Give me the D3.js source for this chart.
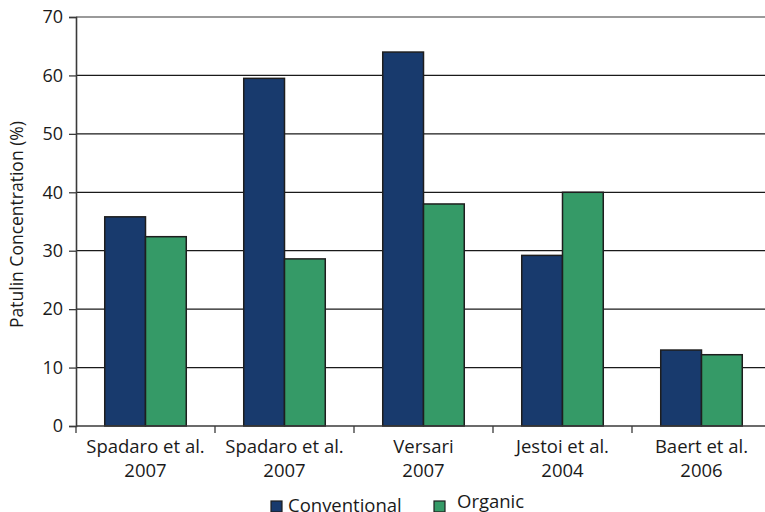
<!DOCTYPE html>
<html>
<head>
<meta charset="utf-8">
<script src="https://cdn.jsdelivr.net/npm/d3@7/dist/d3.min.js"></script>
<style>
  html, body { margin: 0; padding: 0; background: #fff; }
  svg { display: block; font-family: "Open Sans", "Noto Sans", sans-serif; }
</style>
</head>
<body>
<svg id="chart" width="765" height="512"></svg>
<script>
// Studies compared (two-line axis labels)
const studies = [
  ["Spadaro et al.", "2007"],
  ["Spadaro et al.", "2007"],
  ["Versari", "2007"],
  ["Jestoi et al.", "2004"],
  ["Baert et al.", "2006"]
];
const seriesNames = ["Conventional", "Organic"];
const conventional = [35.8, 59.5, 64.0, 29.2, 13.0];
const organic = [32.4, 28.6, 38.0, 40.0, 12.2];
const yTicks = [0, 10, 20, 30, 40, 50, 60, 70];

const colors = { Conventional: "#183a6d", Organic: "#359a67" };

const svg = d3.select("#chart");
const margin = { left: 76, top: 17, right: -6, bottom: 86 };
const width = 765, height = 512;

const rows = studies.map((s, i) => ({
  idx: i, label: s,
  Conventional: conventional[i],
  Organic: organic[i]
}));

const x = d3.scaleBand()
  .domain(d3.range(studies.length))
  .range([margin.left, width - margin.right])
  .paddingInner(0).paddingOuter(0);

const inner = d3.scaleBand()
  .domain(seriesNames)
  .range([0, x.bandwidth()])
  .paddingInner(0)
  .paddingOuter(0.705);

const y = d3.scaleLinear()
  .domain([0, 70])
  .range([height - margin.bottom, margin.top]);

// Horizontal gridlines
svg.append("g")
  .selectAll("line")
  .data(yTicks.filter(t => t > 0))
  .join("line")
  .attr("x1", margin.left)
  .attr("x2", width - margin.right)
  .attr("y1", d => y(d))
  .attr("y2", d => y(d))
  .attr("stroke", d => d === 70 ? "#9a9a9a" : "#1a1a1a")
  .attr("stroke-width", d => d === 70 ? 2 : 1.3);

// Bars
const groups = svg.append("g")
  .selectAll("g")
  .data(rows)
  .join("g")
  .attr("transform", d => `translate(${x(d.idx)},0)`);

groups.selectAll("rect")
  .data(d => seriesNames.map(k => ({ key: k, value: d[k] })))
  .join("rect")
  .attr("x", d => inner(d.key))
  .attr("width", inner.bandwidth())
  .attr("y", d => y(d.value))
  .attr("height", d => y(0) - y(d.value))
  .attr("fill", d => colors[d.key])
  .attr("stroke", "#1e1e1e")
  .attr("stroke-width", 1.5);

// Y axis
const yAxis = svg.append("g")
  .attr("transform", `translate(${margin.left},0)`)
  .call(d3.axisLeft(y).tickValues(yTicks).tickSize(7).tickPadding(6).tickFormat(d3.format("d")));
yAxis.select(".domain").attr("stroke", "#3a3a3a").attr("stroke-width", 1.6);
yAxis.selectAll(".tick line").attr("stroke", "#3a3a3a").attr("stroke-width", 1.3);
yAxis.selectAll(".tick text")
  .attr("font-size", 18)
  .attr("fill", "#1a1a1a")
  .attr("font-family", "'Open Sans', sans-serif");

// X axis with ticks at category boundaries
const xAxisG = svg.append("g")
  .attr("transform", `translate(0,${y(0)})`);
xAxisG.append("line")
  .attr("x1", margin.left).attr("x2", width - margin.right)
  .attr("y1", 0).attr("y2", 0)
  .attr("stroke", "#3a3a3a").attr("stroke-width", 1.6);
xAxisG.selectAll("line.bound")
  .data(d3.range(studies.length + 1))
  .join("line")
  .attr("class", "bound")
  .attr("x1", i => i < studies.length ? x(i) : x(studies.length - 1) + x.bandwidth())
  .attr("x2", i => i < studies.length ? x(i) : x(studies.length - 1) + x.bandwidth())
  .attr("y1", 0).attr("y2", 7)
  .attr("stroke", "#3a3a3a").attr("stroke-width", 1.3);

const catLabels = xAxisG.selectAll("text.cat")
  .data(rows)
  .join("text")
  .attr("class", "cat")
  .attr("x", d => x(d.idx) + x.bandwidth() / 2)
  .attr("text-anchor", "middle")
  .attr("font-size", 18.5)
  .attr("fill", "#1a1a1a");
catLabels.append("tspan").attr("x", d => x(d.idx) + x.bandwidth() / 2).attr("y", 26.5).text(d => d.label[0]);
catLabels.append("tspan").attr("x", d => x(d.idx) + x.bandwidth() / 2).attr("y", 51).text(d => d.label[1]);

// Y axis title
svg.append("text")
  .attr("transform", `translate(23,${(y(0) + y(70)) / 2 + 3}) rotate(-90)`)
  .attr("text-anchor", "middle")
  .attr("font-size", 17.5)
  .attr("fill", "#1a1a1a")
  .text("Patulin Concentration (%)");

// Legend
const legendPos = [
  { key: "Conventional", sx: 271, tx: 288, ty: 511.5 },
  { key: "Organic", sx: 434, tx: 457, ty: 507.5 }
];
const legend = svg.append("g");
legend.selectAll("rect")
  .data(legendPos)
  .join("rect")
  .attr("x", d => d.sx)
  .attr("y", 501)
  .attr("width", 11)
  .attr("height", 11)
  .attr("fill", d => colors[d.key])
  .attr("stroke", "#1e1e1e")
  .attr("stroke-width", 1.2);
legend.selectAll("text")
  .data(legendPos)
  .join("text")
  .attr("x", d => d.tx)
  .attr("y", d => d.ty)
  .attr("font-size", 18.5)
  .attr("fill", "#1a1a1a")
  .text(d => d.key);
</script>
</body>
</html>
